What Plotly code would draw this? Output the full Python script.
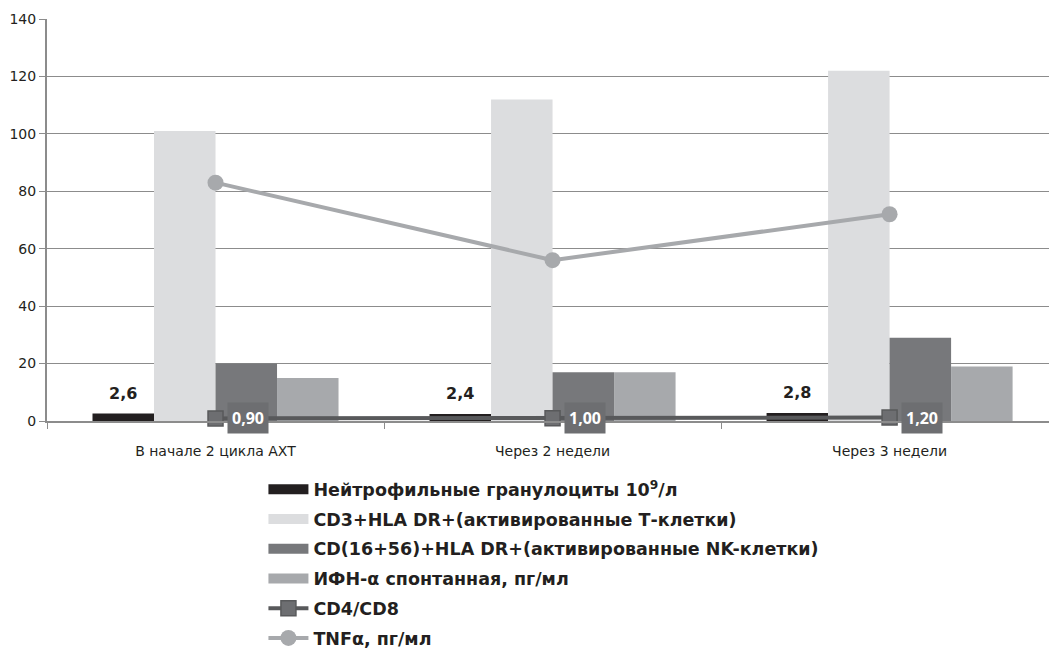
import plotly.graph_objects as go

# Time points of the observation
categories = ["В начале 2 цикла АХТ", "Через 2 недели", "Через 3 недели"]

# Bar series
neutrophils = [2.6, 2.4, 2.8]
cd3_hla = [101, 112, 122]
cd16_56_hla = [20, 17, 29]
ifn_alpha = [15, 17, 19]

# Line series
cd4_cd8 = [0.90, 1.00, 1.20]
tnf_alpha = [83, 56, 72]

y_ticks = [0, 20, 40, 60, 80, 100, 120, 140]

bar_series = [
    ("Нейтрофильные гранулоциты 10<sup>9</sup>/л", neutrophils, "#231f20"),
    ("CD3+HLA DR+(активированные Т-клетки)", cd3_hla, "#dcdddf"),
    ("CD(16+56)+HLA DR+(активированные NK-клетки)", cd16_56_hla, "#77787b"),
    ("ИФН-α спонтанная, пг/мл", ifn_alpha, "#a7a9ac"),
]

LABEL_FONT = "DejaVu Sans"
BOX_FONT = "Open Sans"

fig = go.Figure()

for i, (name, values, color) in enumerate(bar_series):
    fig.add_trace(go.Bar(
        x=categories, y=values, name=name,
        marker=dict(color=color, line=dict(width=0)),
        showlegend=False,
    ))

fig.add_trace(go.Scatter(
    x=categories, y=cd4_cd8,
    name="CD4/CD8", legendgroup="g5", legendrank=5,
    mode="lines+markers",
    line=dict(color="#58595b", width=4),
    marker=dict(symbol="square", size=15, color="#6d6e71",
                line=dict(color="#58595b", width=1.5)),
    cliponaxis=False,
))
fig.add_trace(go.Scatter(
    x=categories, y=tnf_alpha,
    name="TNFα, пг/мл", legendgroup="g6", legendrank=6,
    mode="lines+markers",
    line=dict(color="#a7a9ac", width=4),
    marker=dict(symbol="circle", size=16, color="#a7a9ac"),
    cliponaxis=False,
))

# Wide rectangular legend swatches for the bar series
for i, (name, values, color) in enumerate(bar_series):
    fig.add_trace(go.Scatter(
        x=[None], y=[None], name=name, mode="lines",
        line=dict(color=color, width=12),
        legendgroup=f"g{i + 1}", legendrank=i + 1,
        hoverinfo="skip",
    ))

# Neutrophil values above their bars
for cat, val in zip(categories, neutrophils):
    fig.add_annotation(
        x=cat, y=val, xref="x", yref="y",
        text=f"{val:.1f}".replace(".", ","),
        showarrow=False, xanchor="center", yanchor="bottom",
        xshift=-93, yshift=9,
        font=dict(family=LABEL_FONT, size=16, color="#231f20", weight="bold"),
    )

# CD4/CD8 value labels in dark boxes beside the markers
for cat, val in zip(categories, cd4_cd8):
    fig.add_annotation(
        x=cat, y=val, xref="x", yref="y",
        text=f"{val:.2f}".replace(".", ","),
        showarrow=False, xanchor="left", yanchor="middle",
        xshift=11, yshift=0,
        font=dict(family=BOX_FONT, size=16, color="white", weight="bold"),
        bgcolor="#6d6e71", borderpad=4,
    )

fig.update_layout(
    width=1049, height=652,
    margin=dict(l=47, r=0, t=19, b=231, autoexpand=False),
    paper_bgcolor="white", plot_bgcolor="white",
    barmode="group", bargap=0.27, bargroupgap=0,
    separators=", ",
    showlegend=True,
    legend=dict(
        orientation="v", x=0.216, xanchor="left", y=-0.125, yanchor="top",
        font=dict(family=LABEL_FONT, size=17.5, color="#231f20", weight="bold"),
        itemwidth=40, tracegroupgap=4, traceorder="grouped",
        bgcolor="rgba(0,0,0,0)",
    ),
    font=dict(family=LABEL_FONT, color="#231f20"),
)

fig.update_xaxes(
    type="category", range=[-0.5, 2.473],
    showline=True, linecolor="#8c8c8c", linewidth=2,
    ticks="outside", tickson="boundaries", ticklen=6, tickcolor="#8c8c8c",
    ticklabelstandoff=16,
    tickfont=dict(family=LABEL_FONT, size=14, color="#231f20"),
    showgrid=False,
)
fig.update_yaxes(
    range=[0, 140], tickvals=y_ticks,
    showline=True, linecolor="#8c8c8c", linewidth=2,
    ticks="outside", ticklen=6, tickcolor="#8c8c8c",
    tickfont=dict(family=LABEL_FONT, size=14, color="#231f20"),
    showgrid=True, gridcolor="#8c8c8c", gridwidth=1,
    zeroline=False,
)

fig.write_html("out.html")
